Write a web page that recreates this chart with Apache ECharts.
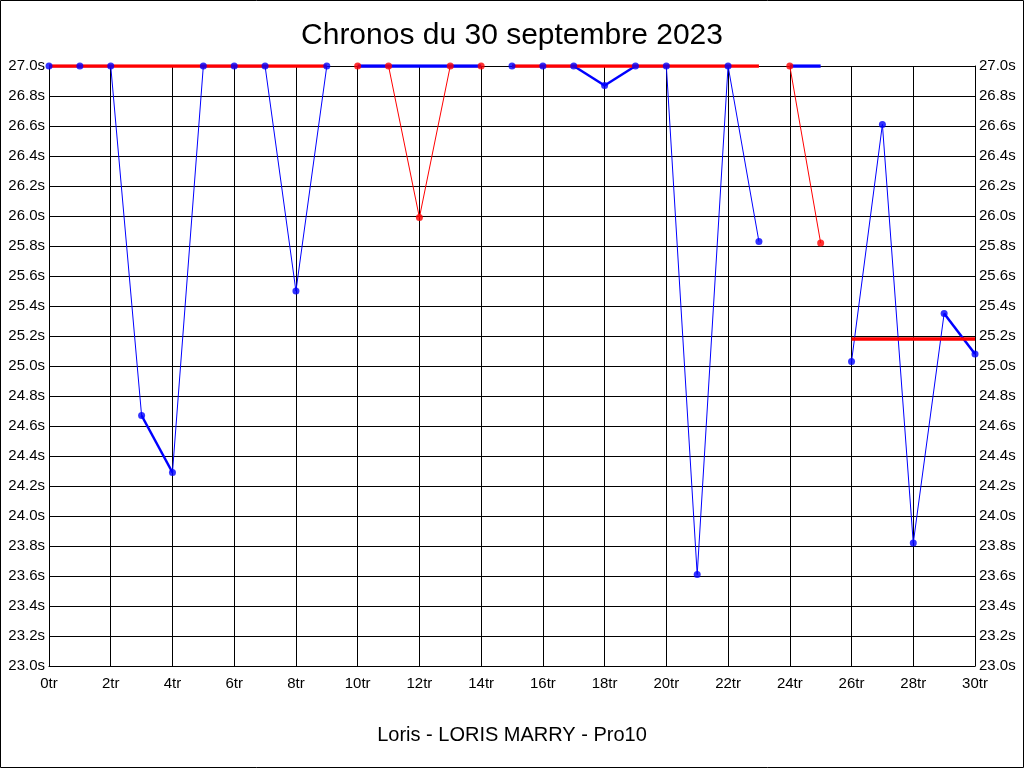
<!DOCTYPE html>
<html>
<head>
<meta charset="utf-8">
<script src="https://cdn.jsdelivr.net/npm/echarts@6/dist/echarts.min.js"></script>
<style>
html,body{margin:0;padding:0;background:#fff;}
#chart{width:1024px;height:768px;}
</style>
</head>
<body>
<div id="chart"></div>
<script>
// ---- data ----
const chartTitle = 'Chronos du 30 septembre 2023';
const chartSubtitle = 'Loris - LORIS MARRY - Pro10';
const lapNumbers = [0,1,2,3,4,5,6,7,8,9,10,11,12,13,14,15,16,17,18,19,20,21,22,23,24,25,26,27,28,29,30];
const lapTimes = [
  27.0, 27.0, 27.0, 24.67, 24.29, 27.0, 27.0, 27.0, 25.50, 27.0,
  27.0, 27.0, 25.99, 27.0, 27.0,
  27.0, 27.0, 27.0, 26.87, 27.0, 27.0, 23.61, 27.0, 25.83,
  27.0, 25.82,
  25.03, 26.61, 23.82, 25.35, 25.08
];
const setFirstLap = [0, 10, 15, 24, 26];
const setLastLap  = [9, 14, 23, 25, 30];
const setAverages = [27.0, 27.0, 27.0, 27.0, 25.18];
const yTicks = { min: 23.0, max: 27.0, step: 0.2 };
const xTicks = { min: 0, max: 30, step: 2 };

// ---- styles ----
const BLUE = '#0000ff', RED = '#ff0000';
const FONT = 'Liberation Sans, Arial, sans-serif';
const series = [];
setFirstLap.forEach((first, i) => {
  const last = setLastLap[i];
  const color = i % 2 === 0 ? BLUE : RED;
  const refColor = i % 2 === 0 ? RED : BLUE;
  const pts = [];
  for (let k = first; k <= last; k++) pts.push([lapNumbers[k], lapTimes[k]]);
  // thin connecting line
  series.push({type:'line', data: pts, showSymbol:false, symbol:'none', z:2,
    lineStyle:{color, width:1}, itemStyle:{color}, silent:true});
  // thicker shallow segments
  for (let k = 0; k < pts.length - 1; k++) {
    if (Math.abs(pts[k+1][1] - pts[k][1]) < 0.8) {
      series.push({type:'line', data:[pts[k], pts[k+1]], symbol:'none', z:2,
        lineStyle:{color, width:2.5}, silent:true});
    }
  }
  // set average line
  series.push({type:'line', data:[[lapNumbers[first], setAverages[i]],[lapNumbers[last], setAverages[i]]],
    symbol:'none', z:3, lineStyle:{color:refColor, width:3.5}, silent:true});
  // markers
  series.push({type:'scatter', data: pts, symbol:'circle', symbolSize:7, z:4,
    itemStyle:{color}, silent:true});
});

const chart = echarts.init(document.getElementById('chart'), null, {renderer:'canvas'});
chart.setOption({
  animation:false,
  backgroundColor:'#ffffff',
  title:[
    {text: chartTitle, left:'center', top:16, textStyle:{fontFamily:FONT, fontSize:30, fontWeight:'normal', color:'#000'}},
    {text: chartSubtitle, left:'center', top:720, textStyle:{fontFamily:FONT, fontSize:20, fontWeight:'normal', color:'#000'}}
  ],
  graphic:[{type:'rect', shape:{x:0.5,y:0.5,width:1023,height:767}, style:{fill:'none', stroke:'#000', lineWidth:1}, silent:true, z:0}],
  grid:{left:49, right:49, top:66, bottom:102, containLabel:false},
  xAxis:{type:'value', min:xTicks.min, max:xTicks.max, interval:xTicks.step,
    axisLine:{show:true, lineStyle:{color:'#000', width:1}}, axisTick:{show:false},
    axisLabel:{formatter: v => v + 'tr', color:'#000', fontFamily:FONT, fontSize:15, margin:10},
    splitLine:{show:true, lineStyle:{color:'#000', width:1}}},
  yAxis:[
    {type:'value', min:yTicks.min, max:yTicks.max, interval:yTicks.step, position:'left',
      axisLine:{show:true, lineStyle:{color:'#000'}}, axisTick:{show:false},
      axisLabel:{formatter: v => v.toFixed(1) + 's', color:'#000', fontFamily:FONT, fontSize:15, margin:4},
      splitLine:{show:true, lineStyle:{color:'#000', width:1}}},
    {type:'value', min:yTicks.min, max:yTicks.max, interval:yTicks.step, position:'right',
      axisLine:{show:true, lineStyle:{color:'#000'}}, axisTick:{show:false},
      axisLabel:{formatter: v => v.toFixed(1) + 's', color:'#000', fontFamily:FONT, fontSize:15, margin:4},
      splitLine:{show:false}}
  ],
  series
});
</script>
</body>
</html>
